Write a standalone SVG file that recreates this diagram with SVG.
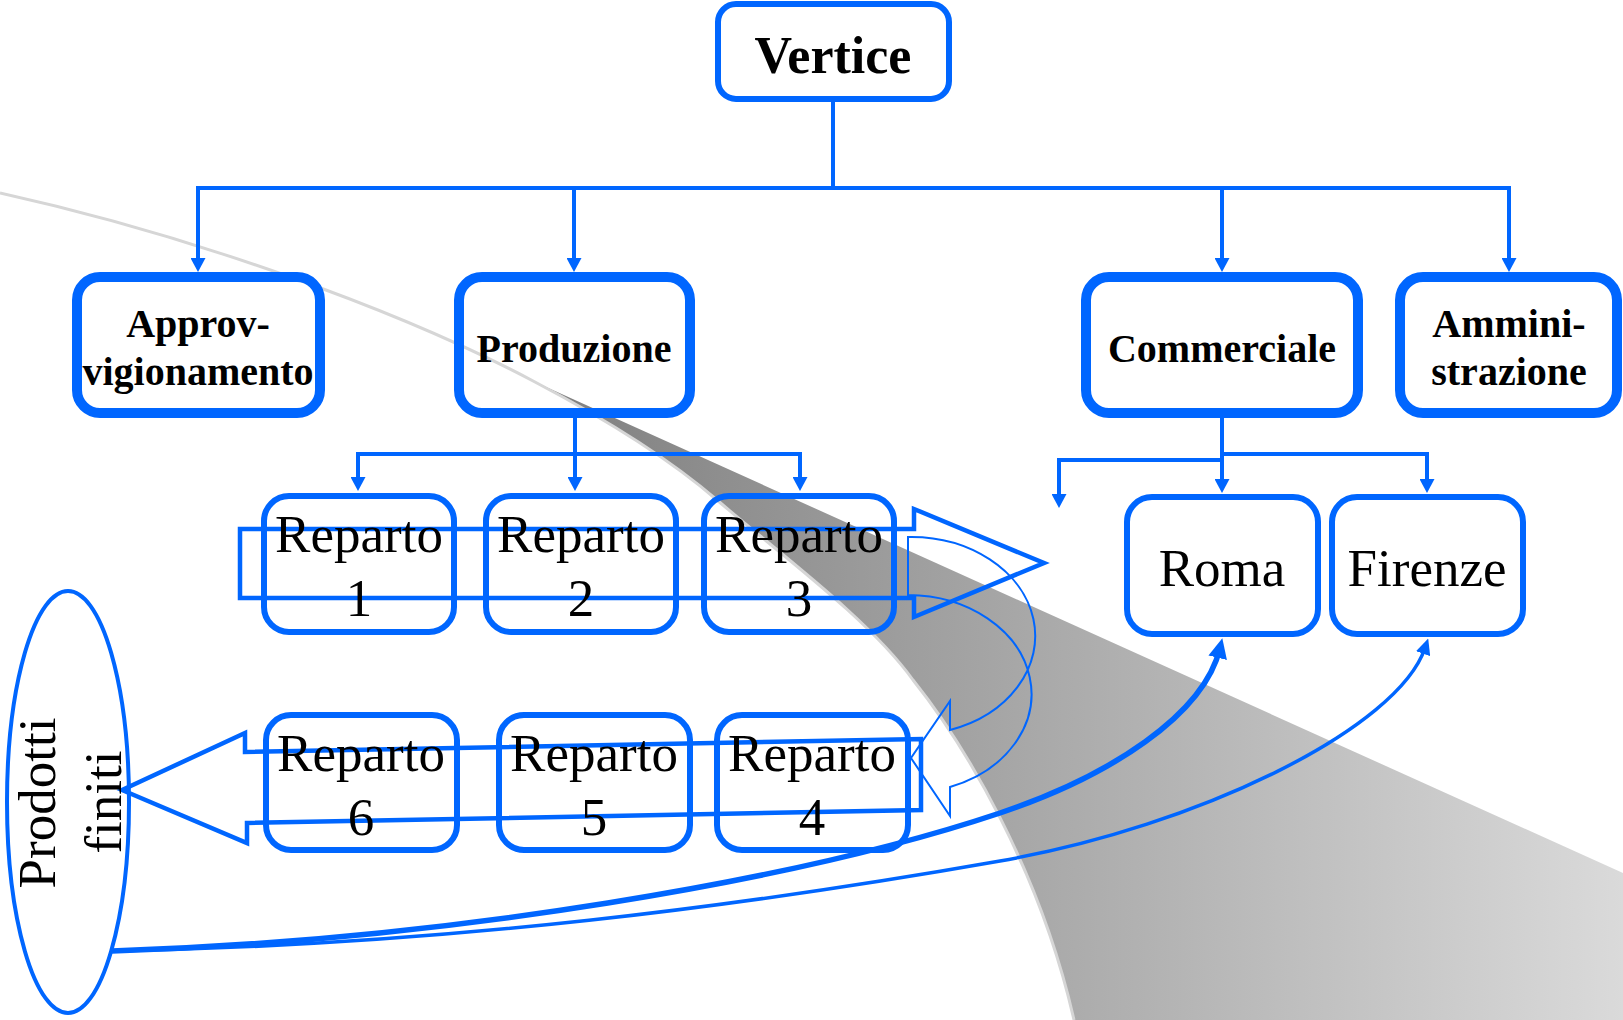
<svg xmlns="http://www.w3.org/2000/svg" width="1623" height="1020" viewBox="0 0 1623 1020">
  <defs>
    <linearGradient id="swooshFill" gradientUnits="userSpaceOnUse" x1="540" y1="0" x2="1623" y2="0">
      <stop offset="0" stop-color="#7f7f7f"/>
      <stop offset="1" stop-color="#dadada"/>
    </linearGradient>
    <marker id="tip" markerUnits="userSpaceOnUse" viewBox="0 0 14 15" markerWidth="14" markerHeight="15" refX="4" refY="7.5" orient="auto-start-reverse">
      <path d="M0,0 L14,7.5 L0,15 Z" fill="#0066ff"/>
    </marker>
    <marker id="tipRoma" markerUnits="userSpaceOnUse" viewBox="0 0 20 19" markerWidth="20" markerHeight="19" refX="10" refY="9.5" orient="auto">
      <path d="M0,0 L20,9.5 L0,19 Z" fill="#0066ff"/>
    </marker>
    <marker id="tipFirenze" markerUnits="userSpaceOnUse" viewBox="0 0 16 15" markerWidth="16" markerHeight="15" refX="6" refY="7.5" orient="auto">
      <path d="M0,0 L16,7.5 L0,15 Z" fill="#0066ff"/>
    </marker>
  </defs>
  <style>
    .box { fill: none; stroke: #0066ff; }
    .heavy { stroke-width: 10; }
    .light { stroke-width: 6; }
    .link { fill: none; stroke: #0066ff; stroke-width: 4; }
    .flow { fill: none; stroke: #0066ff; stroke-width: 4.5; stroke-linejoin: miter; }
    .bold { font-family: "Liberation Serif", "Times New Roman", serif; font-weight: bold; font-size: 40px; text-anchor: middle; fill: #000; }
    .big { font-size: 52px; }
    .reg { font-family: "Liberation Serif", "Times New Roman", serif; font-size: 53px; text-anchor: middle; fill: #000; }
  </style>

  <rect width="1623" height="1020" fill="#ffffff"/>

  <!-- background swoosh -->
  <g id="swoosh">
    <path d="M535,382 L1623,873 L1623,1020 L1074,1020 C1040,870 965,745 913,680 C870,620 780,554 717,500 C665,455 590,411 535,382 Z" fill="url(#swooshFill)"/>
    <path d="M0,193 C190,235 400,310 535,382 C590,411 665,455 717,500 C780,554 870,620 913,680 C965,745 1040,870 1074,1020" fill="none" stroke="#d6d6d6" stroke-width="3"/>
  </g>

  <!-- hierarchy connectors -->
  <g id="connectors">
    <path class="link" d="M833,102 V188"/>
    <path class="link" d="M198,262 V188 H1509 V262" marker-start="url(#tip)" marker-end="url(#tip)"/>
    <path class="link" d="M574,188 V262" marker-end="url(#tip)"/>
    <path class="link" d="M1222,188 V262" marker-end="url(#tip)"/>
    <path class="link" d="M575,418 V481" marker-end="url(#tip)"/>
    <path class="link" d="M358,481 V454 H800 V481" marker-start="url(#tip)" marker-end="url(#tip)"/>
    <path class="link" d="M1222,418 V483" marker-end="url(#tip)"/>
    <path class="link" d="M1222,454 H1427 V483" marker-end="url(#tip)"/>
    <path class="link" d="M1222,460 H1059 V498" marker-end="url(#tip)"/>
    <path d="M112,951 C450,940 800,880 1000,813 C1110,776 1204,715 1220,648" fill="none" stroke="#0066ff" stroke-width="5.5" marker-end="url(#tipRoma)"/>
    <path d="M112,951 C450,945 750,905 1000,861 C1200,826 1398,728 1425,648" fill="none" stroke="#0066ff" stroke-width="3.5" marker-end="url(#tipFirenze)"/>
  </g>

  <!-- process flow arrows -->
  <g id="flow">
    <path class="flow" d="M240,529 H914 V509 L1044,563 L914,617 V598 H240 Z"/>
    <path d="M908,537 A124,99 0 0 1 950,730 L950,701 L911,758 L950,816 L950,787 A124,99 0 0 0 908,595 Z" fill="none" stroke="#0066ff" stroke-width="2"/>
    <path class="flow" d="M122,790 L245,733 L245,752 L921,739 L921,810 L247,823 L247,843 Z"/>
  </g>

  <g id="vertice">
    <rect class="box light" x="718" y="4" width="231" height="95" rx="18"/>
    <text class="bold big" x="833" y="73">Vertice</text>
  </g>
  <g id="approvvigionamento">
    <rect class="box heavy" x="77" y="277" width="243" height="136" rx="23"/>
    <text class="bold" x="198" y="337">Approv-</text>
    <text class="bold" x="198" y="385">vigionamento</text>
  </g>
  <g id="produzione">
    <rect class="box heavy" x="459" y="277" width="231" height="136" rx="23"/>
    <text class="bold" x="574" y="362">Produzione</text>
  </g>
  <g id="commerciale">
    <rect class="box heavy" x="1086" y="277" width="272" height="136" rx="23"/>
    <text class="bold" x="1222" y="362">Commerciale</text>
  </g>
  <g id="amministrazione">
    <rect class="box heavy" x="1400" y="277" width="217" height="136" rx="23"/>
    <text class="bold" x="1509" y="337">Ammini-</text>
    <text class="bold" x="1509" y="385">strazione</text>
  </g>

  <g id="reparto1">
    <rect class="box light" x="264" y="496" width="190" height="136" rx="25"/>
    <text class="reg" x="359" y="552">Reparto</text>
    <text class="reg" x="359" y="616">1</text>
  </g>
  <g id="reparto2">
    <rect class="box light" x="486" y="496" width="190" height="136" rx="25"/>
    <text class="reg" x="581" y="552">Reparto</text>
    <text class="reg" x="581" y="616">2</text>
  </g>
  <g id="reparto3">
    <rect class="box light" x="704" y="496" width="190" height="136" rx="25"/>
    <text class="reg" x="799" y="552">Reparto</text>
    <text class="reg" x="799" y="616">3</text>
  </g>
  <g id="reparto6">
    <rect class="box light" x="266" y="715" width="191" height="135" rx="25"/>
    <text class="reg" x="361" y="771">Reparto</text>
    <text class="reg" x="361" y="835">6</text>
  </g>
  <g id="reparto5">
    <rect class="box light" x="499" y="715" width="191" height="135" rx="25"/>
    <text class="reg" x="594" y="771">Reparto</text>
    <text class="reg" x="594" y="835">5</text>
  </g>
  <g id="reparto4">
    <rect class="box light" x="717" y="715" width="191" height="135" rx="25"/>
    <text class="reg" x="812" y="771">Reparto</text>
    <text class="reg" x="812" y="835">4</text>
  </g>

  <g id="roma">
    <rect class="box light" x="1127" y="497" width="191" height="137" rx="25"/>
    <text class="reg" x="1222" y="586">Roma</text>
  </g>
  <g id="firenze">
    <rect class="box light" x="1332" y="497" width="191" height="137" rx="25"/>
    <text class="reg" x="1427" y="586">Firenze</text>
  </g>

  <g id="prodotti-finiti">
    <ellipse cx="68" cy="802" rx="61" ry="211" fill="none" stroke="#0066ff" stroke-width="4"/>
    <text class="reg" transform="translate(55,803) rotate(-90)">Prodotti</text>
    <text class="reg" transform="translate(121,802) rotate(-90)">finiti</text>
  </g>
</svg>
